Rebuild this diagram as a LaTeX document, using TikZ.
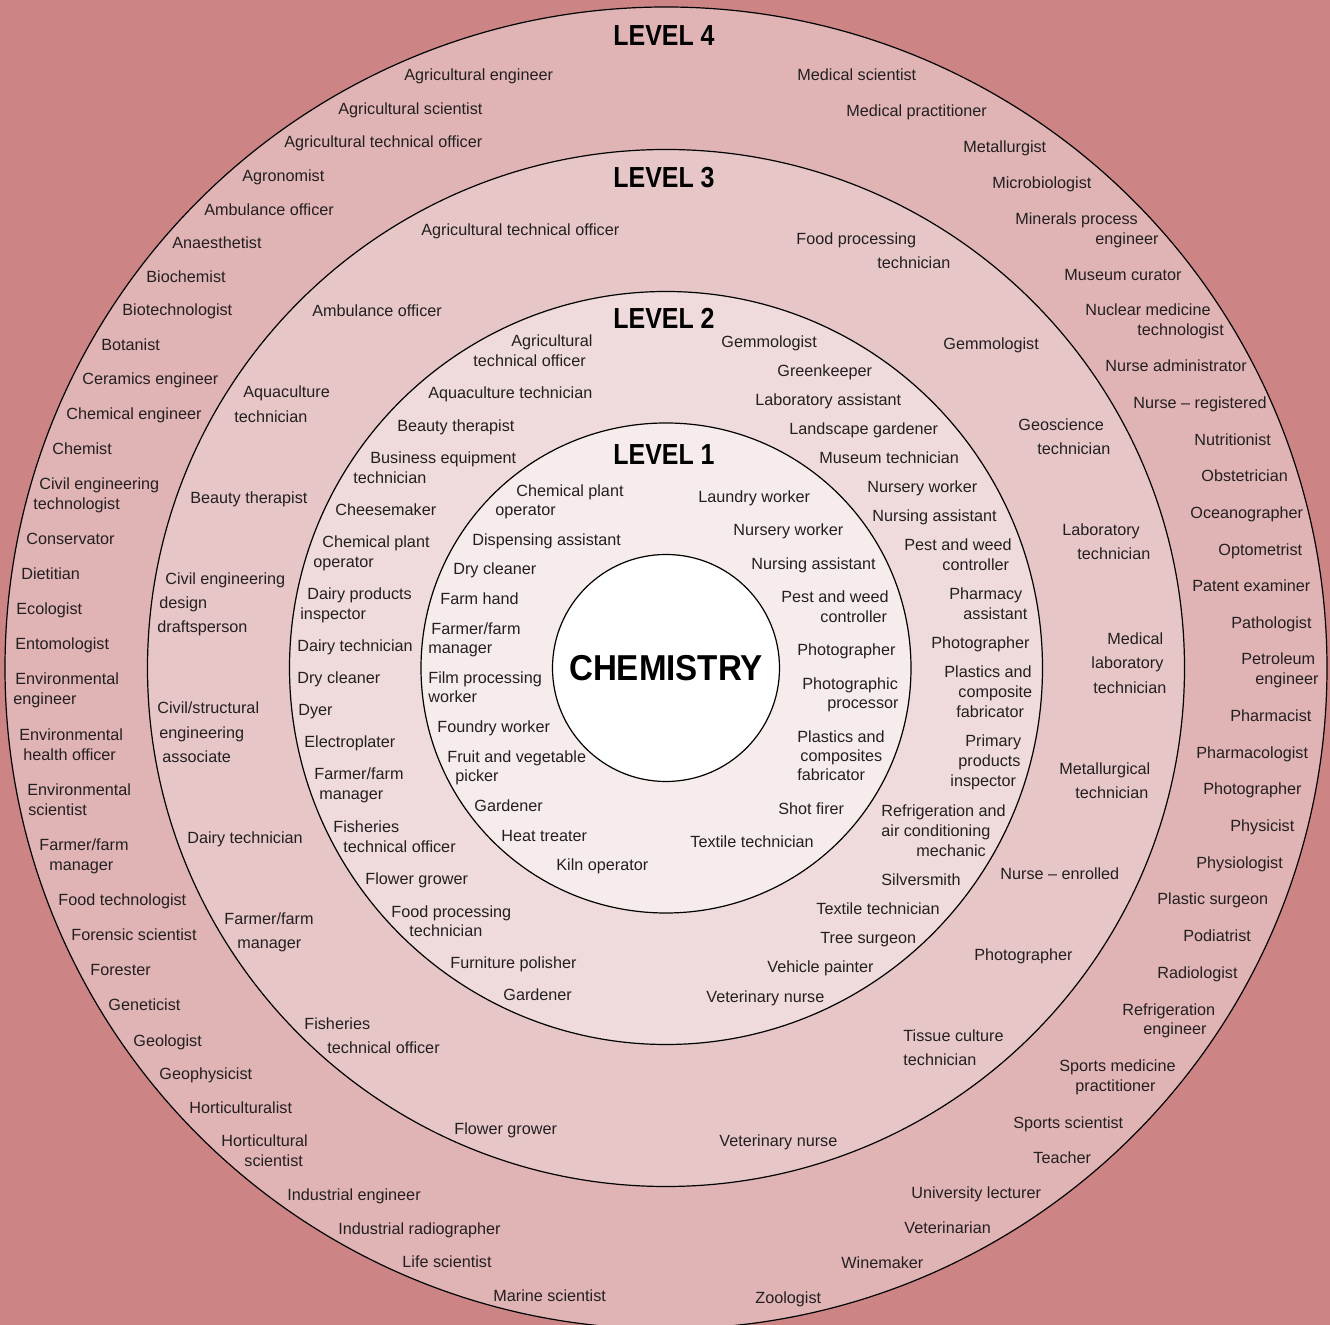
\documentclass[tikz,border=0pt]{standalone}
\usepackage{fontspec}
\setmainfont{Liberation Sans}
\newfontfamily\headfont[FakeStretch=0.86]{Liberation Sans}
\newfontfamily\chemfont[FakeStretch=0.92]{Liberation Sans}
\definecolor{bgc}{RGB}{205,132,133}
\definecolor{ringA}{RGB}{224,180,181}
\definecolor{ringB}{RGB}{231,198,200}
\definecolor{ringC}{RGB}{239,219,219}
\definecolor{ringD}{RGB}{246,236,236}
\definecolor{ink}{RGB}{35,31,32}
\tikzset{
  lab/.style={anchor=west, inner sep=0pt, text height=6pt, text depth=0pt,
    font=\fontsize{8.1}{10}\selectfont, text=ink},
  lev/.style={anchor=center, inner sep=0pt, text height=10.4pt, text depth=0pt,
    font=\headfont\bfseries\fontsize{14.5}{16}\selectfont, text=black},
  ring/.style={draw=black, line width=0.6pt}
}
\begin{document}
\begin{tikzpicture}[x=0.5pt,y=-0.5pt]
\useasboundingbox (0,0) rectangle (1330,1325);
\fill[bgc] (0,0) rectangle (1330,1325);
\coordinate (ctr) at (666,668);
\filldraw[ring, fill=ringA] (ctr) circle[radius=330.5pt];
\filldraw[ring, fill=ringB] (ctr) circle[radius=259.25pt];
\filldraw[ring, fill=ringC] (ctr) circle[radius=188.25pt];
\filldraw[ring, fill=ringD] (ctr) circle[radius=122.5pt];
\node[circle, draw=black, line width=0.6pt, fill=white, minimum size=113.5pt, inner sep=0pt,
  text height=13pt, text depth=0pt, font=\chemfont\bfseries\fontsize{18}{20}\selectfont] (chem) at (ctr) {CHEMISTRY};
\node[lev] (lev4) at (664,35) {LEVEL 4};
\node[lev] (lev3) at (664,177) {LEVEL 3};
\node[lev] (lev2) at (664,318) {LEVEL 2};
\node[lev] (lev1) at (664,454) {LEVEL 1};
% Level 4
\foreach \x/\y/\t [count=\i] in {
404/75/Agricultural engineer, 338/109/Agricultural scientist, 284/142/Agricultural technical officer,
242/176/Agronomist, 204/210/Ambulance officer, 172/243/Anaesthetist, 146/277/Biochemist,
122/310/Biotechnologist, 101/345/Botanist, 82/379/Ceramics engineer, 66/414/Chemical engineer,
52/449/Chemist, 39/484/Civil engineering, 33/504/technologist, 26/539/Conservator, 21/574/Dietitian,
16/609/Ecologist, 15/644/Entomologist, 15/679/Environmental, 13/699/engineer, 19/735/Environmental,
23/755/health officer, 27/790/Environmental, 28/810/scientist, 39/845/{Farmer/farm}, 49/865/manager,
58/900/Food technologist, 71/935/Forensic scientist, 90/970/Forester, 108/1005/Geneticist,
133/1041/Geologist, 159/1074/Geophysicist, 189/1108/Horticulturalist, 221/1141/Horticultural,
244/1161/scientist, 287/1195/Industrial engineer, 338/1229/Industrial radiographer,
402/1262/Life scientist, 493/1296/Marine scientist, 755/1298/Zoologist, 841/1263/Winemaker,
904/1228/Veterinarian, 911/1193/University lecturer, 1033/1158/Teacher, 1013/1123/Sports scientist,
1059/1066/Sports medicine, 1075/1086/practitioner, 1122/1010/Refrigeration, 1143/1029/engineer,
1157/973/Radiologist, 1183/936/Podiatrist, 1157/899/Plastic surgeon, 1196/863/Physiologist,
1230/826/Physicist, 1203/789/Photographer, 1196/753/Pharmacologist, 1230/716/Pharmacist,
1241/659/Petroleum, 1255/679/engineer, 1231/623/Pathologist, 1192/586/Patent examiner,
1218/550/Optometrist, 1190/513/Oceanographer, 1201/476/Obstetrician, 1194/440/Nutritionist,
1133/403/Nurse -- registered, 1105/366/Nurse administrator, 1085/310/Nuclear medicine,
1137/330/technologist, 1064/275/Museum curator, 1015/219/Minerals process, 1095/239/engineer,
992/183/Microbiologist, 963/147/Metallurgist, 846/111/Medical practitioner, 797/75/Medical scientist}
  \node[lab] (d\i) at (\x,\y) {\t};
% Level 3
\foreach \x/\y/\t [count=\i] in {
421/230/Agricultural technical officer, 312/311/Ambulance officer, 243/392/Aquaculture,
234/417/technician, 190/498/Beauty therapist, 165/579/Civil engineering, 159/603/design,
157/627/draftsperson, 157/708/{Civil/structural}, 159/733/engineering, 162/757/associate,
187/838/Dairy technician, 224/919/{Farmer/farm}, 237/943/manager, 304/1024/Fisheries,
327/1048/technical officer, 454/1129/Flower grower, 719/1141/Veterinary nurse,
903/1036/Tissue culture, 903/1060/technician, 974/955/Photographer, 1000/874/Nurse -- enrolled,
1059/769/Metallurgical, 1075/793/technician, 1107/639/Medical, 1091/663/laboratory,
1093/688/technician, 1062/530/Laboratory, 1077/554/technician, 1018/425/Geoscience,
1037/449/technician, 943/344/Gemmologist, 796/239/Food processing, 877/263/technician}
  \node[lab] (c\i) at (\x,\y) {\t};
% Level 2
\foreach \x/\y/\t [count=\i] in {
511/341/Agricultural, 473/361/technical officer, 428/393/Aquaculture technician,
397/426/Beauty therapist, 370/458/Business equipment, 353/478/technician, 335/510/Cheesemaker,
322/542/Chemical plant, 313/562/operator, 307/594/Dairy products, 300/614/inspector,
297/646/Dairy technician, 297/678/Dry cleaner, 298/710/Dyer, 304/742/Electroplater,
314/774/{Farmer/farm}, 319/794/manager, 333/827/Fisheries, 343/847/technical officer,
365/879/Flower grower, 391/912/Food processing, 409/931/technician, 450/963/Furniture polisher,
503/995/Gardener, 706/997/Veterinary nurse, 767/967/Vehicle painter, 820/938/Tree surgeon,
816/909/Textile technician, 881/880/Silversmith, 881/811/Refrigeration and,
881/831/air conditioning, 916/851/mechanic, 965/741/Primary, 958/761/products, 950/781/inspector,
944/672/Plastics and, 958/692/composite, 956/712/fabricator, 931/643/Photographer,
949/594/Pharmacy, 963/614/assistant, 904/545/Pest and weed, 942/565/controller,
872/516/Nursing assistant, 867/487/Nursery worker, 819/458/Museum technician,
789/429/Landscape gardener, 755/400/Laboratory assistant, 777/371/Greenkeeper, 721/342/Gemmologist}
  \node[lab] (b\i) at (\x,\y) {\t};
% Level 1
\foreach \x/\y/\t [count=\i] in {
516/491/Chemical plant, 495/510/operator, 472/540/Dispensing assistant, 453/569/Dry cleaner,
440/599/Farm hand, 431/629/{Farmer/farm}, 428/648/manager, 428/678/Film processing,
428/697/worker, 437/727/Foundry worker, 447/757/Fruit and vegetable, 455/776/picker,
474/806/Gardener, 501/836/Heat treater, 556/865/Kiln operator, 690/842/Textile technician,
778/809/Shot firer, 797/737/Plastics and, 800/756/composites, 797/775/fabricator,
802/684/Photographic, 827/703/processor, 797/650/Photographer, 781/597/Pest and weed,
820/617/controller, 751/564/Nursing assistant, 733/530/Nursery worker, 698/497/Laundry worker}
  \node[lab] (a\i) at (\x,\y) {\t};
\end{tikzpicture}
\end{document}
